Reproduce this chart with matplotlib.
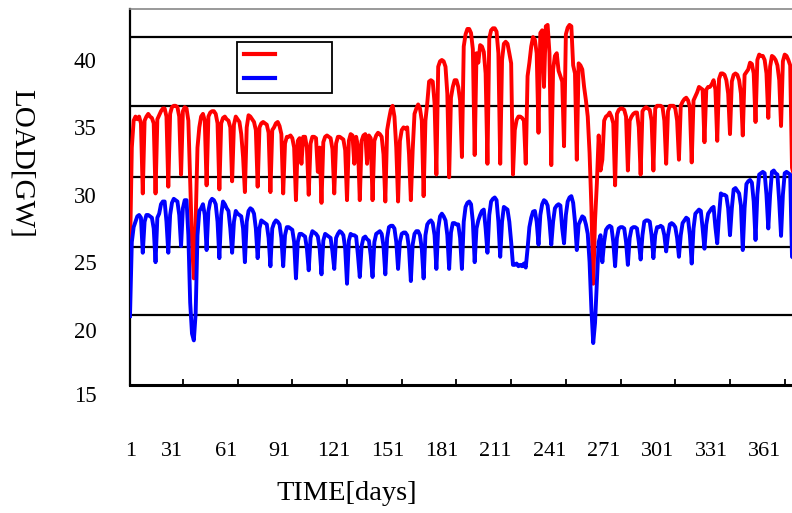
import matplotlib.pyplot as plt
from matplotlib.lines import Line2D

plt.rcParams['font.family'] = ['Liberation Serif', 'DejaVu Serif']

# daily load, one row per week (row starts on day 1, 8, 15, ...)
load_red = [
    25.7, 33.5, 35.5, 35.8, 35.6, 35.8, 35.3,
    30.1, 35.5, 35.8, 36.0, 35.8, 35.7, 35.3,
    30.1, 35.6, 35.9, 36.2, 36.4, 36.4, 35.8,
    30.6, 36.0, 36.5, 36.6, 36.6, 36.5, 35.8,
    31.5, 36.2, 36.5, 36.4, 35.5, 31.0, 26.5,
    23.8, 28.0, 33.5, 35.0, 35.8, 36.0, 35.5,
    30.7, 35.8, 36.1, 36.2, 36.2, 36.0, 35.3,
    30.4, 35.3, 35.7, 35.8, 35.6, 35.5, 35.0,
    31.0, 35.2, 35.8, 35.6, 35.4, 34.5, 32.8,
    30.2, 35.0, 35.9, 35.8, 35.6, 35.4, 34.8,
    30.6, 35.0, 35.3, 35.4, 35.3, 35.2, 34.6,
    30.2, 34.8, 35.0, 35.3, 35.4, 35.1, 34.5,
    30.1, 33.8, 34.3, 34.3, 34.4, 34.2, 33.5,
    29.6, 34.0, 34.2, 32.3, 34.3, 34.3, 33.5,
    30.0, 33.8, 34.3, 34.3, 34.2, 31.7, 33.5,
    29.4, 33.9, 34.3, 34.4, 34.3, 34.2, 33.4,
    30.1, 33.8, 34.3, 34.3, 34.2, 34.1, 33.3,
    29.6, 34.0, 34.5, 34.4, 32.3, 34.3, 33.6,
    29.6, 34.0, 34.4, 34.5, 32.3, 34.4, 34.2,
    29.6, 34.0, 34.4, 34.6, 34.5, 34.3, 33.0,
    29.5, 34.8, 35.6, 36.3, 36.6, 35.8, 33.5,
    29.5, 34.0, 34.8, 35.0, 34.9, 35.0, 33.0,
    29.6, 33.3, 36.0, 36.4, 36.7, 36.4, 35.5,
    29.9, 35.5, 36.8, 38.4, 38.5, 38.4, 36.8,
    31.5, 39.5, 39.9, 40.0, 39.9, 39.5, 37.5,
    31.3, 37.2, 38.0, 38.5, 38.5, 38.0, 37.0,
    32.8, 41.0, 41.9, 42.3, 42.3, 42.0, 40.8,
    32.95, 40.5, 39.8, 41.1, 41.0, 40.6, 39.0,
    32.3, 41.6, 42.2, 42.35, 42.35, 42.1, 40.5,
    32.3, 40.0, 41.2, 41.35, 41.2, 40.5, 39.75,
    31.5, 34.8, 35.55, 35.8, 35.8, 35.7, 35.5,
    32.3, 38.8, 39.8, 41.0, 41.7, 41.5, 40.5,
    34.6, 42.0, 42.2, 38.0, 42.5, 42.6, 40.5,
    32.2, 39.3, 40.3, 40.5, 39.2, 38.8, 38.4,
    33.6, 41.9, 42.4, 42.6, 42.5, 39.6, 39.0,
    32.6, 39.75, 39.6, 39.3, 38.0, 37.0, 35.8,
    33.1, 29.1, 23.4, 28.1, 30.85, 34.4, 31.8,
    32.6, 35.5, 35.8, 35.9, 36.1, 35.8, 35.3,
    30.7, 36.0, 36.3, 36.4, 36.4, 36.3, 35.8,
    31.8, 35.5, 35.8, 36.0, 36.1, 36.1, 35.0,
    31.5, 36.2, 36.4, 36.5, 36.4, 36.3, 35.5,
    31.8, 36.4, 36.6, 36.6, 36.6, 36.5, 35.5,
    32.3, 36.2, 36.6, 36.6, 36.6, 36.4, 35.5,
    32.6, 36.6, 36.9, 37.1, 37.2, 37.0, 36.5,
    32.4, 37.0, 37.3, 37.6, 38.0, 37.9, 37.8,
    33.9, 37.8, 38.0, 38.0, 38.2, 38.5, 37.8,
    34.0, 38.6, 39.0, 39.0, 38.9, 38.5, 37.5,
    34.5, 38.4, 38.9, 39.0, 38.9, 38.5, 37.5,
    34.4, 38.9, 39.1, 39.3, 39.8, 39.7, 39.0,
    35.4, 40.0, 40.4, 40.3, 40.3, 40.0, 39.0,
    35.7, 39.5, 40.3, 40.2, 40.0, 39.6, 38.5,
    35.1, 39.9, 40.4, 40.3, 40.0, 39.6, 32.0,
    31.5,
]

load_blue = [
    21.0, 26.5, 27.6, 28.0, 28.4, 28.5, 28.3,
    25.7, 28.0, 28.5, 28.5, 28.4, 28.3, 27.5,
    25.0, 28.3, 28.6, 29.3, 29.5, 29.5, 28.0,
    25.7, 28.5, 29.4, 29.7, 29.6, 29.5, 28.5,
    26.2, 29.0, 29.6, 29.6, 27.0, 22.0, 19.7,
    19.2, 21.2, 27.0, 28.8, 29.0, 29.3, 28.5,
    25.9, 28.8, 29.5, 29.7, 29.6, 29.3, 28.0,
    25.3, 28.5, 29.5, 29.3, 29.0, 28.8, 27.5,
    25.7, 28.0, 28.8, 28.6, 28.5, 28.4, 27.5,
    25.0, 28.0, 28.8, 29.0, 28.9, 28.6, 27.5,
    25.3, 27.5, 28.1, 28.0, 27.9, 27.8, 26.8,
    24.7, 27.5, 27.9, 28.1, 28.0, 27.8, 26.8,
    24.7, 27.0, 27.6, 27.6, 27.5, 27.4, 26.5,
    23.8, 26.5, 27.1, 27.1, 27.0, 26.9, 26.0,
    24.4, 26.8, 27.3, 27.2, 27.1, 26.9, 26.0,
    24.1, 26.6, 27.1, 27.0, 26.9, 26.8, 25.8,
    24.5, 26.8, 27.1, 27.3, 27.2, 27.0, 26.0,
    23.4, 26.6, 27.1, 27.0, 27.0, 26.9, 25.5,
    23.9, 26.2, 26.8, 26.9, 26.7, 26.6, 25.5,
    23.9, 26.5, 27.1, 27.2, 27.3, 27.1, 26.2,
    24.1, 26.8, 27.6, 27.7, 27.7, 27.5, 26.5,
    24.5, 26.5, 27.1, 27.2, 27.2, 27.0, 26.0,
    23.6, 26.3, 27.1, 27.3, 27.3, 27.0, 26.0,
    23.8, 27.0, 27.8, 28.0, 28.1, 27.9, 27.0,
    24.5, 27.5, 28.4, 28.6, 28.4, 28.1, 27.0,
    24.5, 27.2, 27.9, 27.9, 27.8, 27.8, 26.8,
    24.5, 28.0, 29.1, 29.4, 29.5, 29.3, 28.0,
    25.0, 27.5, 28.1, 28.5, 28.8, 28.9, 27.5,
    25.7, 28.5, 29.5, 29.7, 29.8, 29.6, 28.0,
    25.4, 28.0, 29.1, 29.0, 28.9, 28.0, 26.5,
    24.8, 24.8, 24.9, 24.7, 24.8, 24.7, 24.9,
    24.6, 26.0, 27.6, 28.3, 28.75, 28.8, 28.0,
    26.3, 28.5, 29.3, 29.6, 29.5, 29.2, 28.0,
    26.3, 28.0, 29.0, 29.2, 29.3, 29.2, 27.5,
    26.4, 28.5, 29.5, 29.8, 29.9, 29.4, 28.0,
    25.9, 27.8, 28.1, 28.4, 28.3, 27.8, 27.1,
    25.0, 21.5, 19.0, 20.5, 23.5, 26.5, 27.0,
    25.0, 26.5, 27.4, 27.6, 27.7, 27.6, 26.5,
    24.7, 26.8, 27.5, 27.6, 27.6, 27.5, 26.5,
    24.8, 26.8, 27.5, 27.6, 27.6, 27.5, 26.5,
    25.2, 27.0, 28.0, 28.1, 28.1, 28.0, 27.0,
    25.3, 27.0, 27.6, 27.6, 27.7, 27.6, 27.0,
    25.8, 27.0, 27.8, 27.9, 27.8, 27.6, 26.8,
    25.4, 27.0, 27.9, 28.1, 28.3, 28.2, 27.0,
    24.9, 27.5, 28.6, 28.75, 28.9, 28.8, 27.5,
    26.0, 27.8, 28.6, 28.8, 29.0, 29.1, 27.6,
    26.4, 28.5, 30.1, 30.0, 30.0, 29.9, 29.0,
    27.0, 29.0, 30.4, 30.5, 30.3, 30.1, 29.2,
    25.9, 29.0, 30.8, 31.0, 31.1, 30.9, 29.5,
    26.65, 30.0, 31.5, 31.6, 31.7, 31.6, 30.0,
    27.5, 30.0, 31.7, 31.8, 31.6, 31.5, 29.5,
    26.95, 30.0, 31.6, 31.7, 31.6, 31.5, 25.4,
    25.3,
]

days = list(range(1, len(load_red) + 1))

tick_days = [30, 60, 90, 120, 150, 180, 210, 240, 270, 300, 330, 360]
x_labels = ['1', '31', '61', '91', '121', '151', '181', '211', '241', '271',
            '301', '331', '361']
y_ticks = [20, 25, 30, 35, 40]
grid_levels = [21.1, 26.15, 31.34, 36.61, 41.73]

fig = plt.figure(figsize=(7.92, 5.13), dpi=100)
W, H = 792, 513
ax = fig.add_axes([130 / W, 1 - 385 / H, 662 / W, 376 / H])

for g in grid_levels:
    ax.axhline(g, color='black', lw=1.6, zorder=1)

ax.plot(days, load_red, color='#ff0000', lw=2.8, zorder=3)
ax.plot(days, load_blue, color='#0000ff', lw=2.8, zorder=3)

ax.set_xlim(1, 364)
ax.set_ylim(15.89, 43.78)

ax.spines['right'].set_visible(False)
ax.spines['top'].set_color('#888888')
ax.spines['top'].set_linewidth(1.2)
ax.spines['left'].set_linewidth(1.6)
ax.spines['bottom'].set_linewidth(2.2)

# y labels (no tick marks); the "15" label sits below the axis
ax.set_yticks(y_ticks)
ax.set_yticklabels([str(v) for v in y_ticks], fontsize=16.5)
ax.tick_params(axis='y', length=0, pad=24)
ax.text(-33 / 662, 15, '15', transform=ax.get_yaxis_transform(),
        ha='right', va='center', fontsize=16.5, clip_on=False)

# x tick marks inside, labels placed separately as in the original
ax.set_xticks(tick_days)
ax.set_xticklabels([])
ax.tick_params(axis='x', direction='in', length=4, width=1.3, color='black')
for i, lab in enumerate(x_labels):
    xpix = 131 if i == 0 else 172 + 53.9 * (i - 1)
    ax.text((xpix - 130) / 662, -0.178, lab, transform=ax.transAxes,
            ha='center', va='center', fontsize=16)

fig.text(347 / W, 1 - 493 / H, 'TIME[days]', ha='center', va='center', fontsize=20.5)
fig.text(22 / W, 1 - 163 / H, 'LOAD[GW]', ha='center', va='center',
         rotation=-90, fontsize=21)

handles = [Line2D([], [], color='#ff0000', lw=3),
           Line2D([], [], color='#0000ff', lw=3)]
leg = ax.legend(handles, ['', ''], loc='upper left',
                bbox_to_anchor=(0.161, 0.913), borderaxespad=0,
                fontsize=10, handlelength=2.3, handletextpad=3.6,
                borderpad=0.5, labelspacing=0.8, fancybox=False,
                framealpha=1, edgecolor='black')
leg.get_frame().set_linewidth(1.3)

fig.savefig('out.png', dpi=100)
